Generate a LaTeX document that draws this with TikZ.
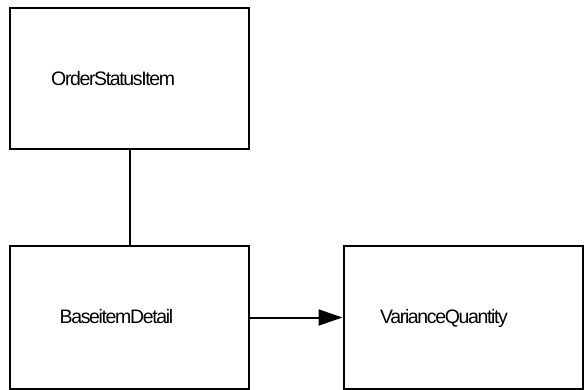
\documentclass[tikz,border=0pt]{standalone}
\usepackage{fontspec}
\setmainfont{Liberation Sans}
\newfontfamily\tightfont[LetterSpace=-7]{Liberation Sans}
\usetikzlibrary{arrows.meta}
\tikzset{
  umlbox/.style={draw=black, line width=2pt, minimum width=239pt, inner sep=0pt, fill=white},
  lbl/.style={anchor=base west, inner sep=0pt, font=\tightfont\fontsize{19.5pt}{22pt}\selectfont},
  conn/.style={line width=2pt},
  arr/.style={line width=2pt, -{Triangle[length=24pt,width=16pt]}}
}
\begin{document}
\begin{tikzpicture}[x=1pt,y=-1pt]
\useasboundingbox (0,0) rectangle (584,390);
\node[umlbox, minimum height=141pt] (osi) at (129.5,78.5) {};
\node[umlbox, minimum height=143pt] (bid) at (129.5,317.5) {};
\node[umlbox, minimum height=143pt] (vq) at (463,317.5) {};
\node[lbl] (osil) at (51,86) {OrderStatusItem};
\node[lbl] (bidl) at (59.5,323.3) {BaseitemDetail};
\node[lbl] (vql) at (380,323.3) {VarianceQuantity};
\draw[conn] (osi.south) -- (bid.north);
\draw[arr] (bid.east) -- (vq.west);
\end{tikzpicture}
\end{document}
